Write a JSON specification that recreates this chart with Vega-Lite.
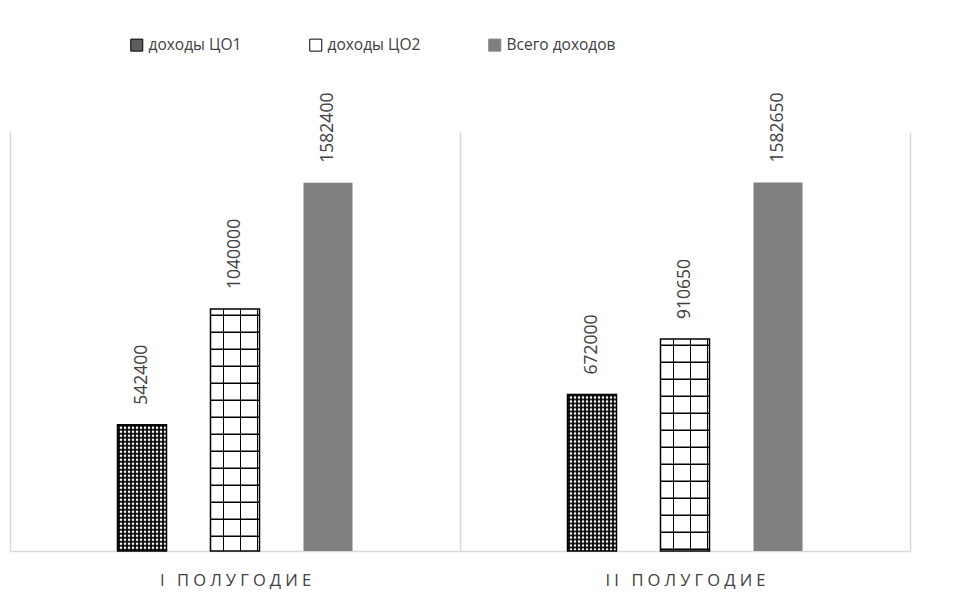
{
  "$schema": "https://vega.github.io/schema/vega-lite/v6.json",
  "autosize": "none",
  "width": 900,
  "height": 419,
  "padding": {"left": 10, "top": 132, "right": 45, "bottom": 63},
  "background": "#ffffff",
  "config": {
    "view": {"stroke": null},
    "font": "Open Sans"
  },
  "data": {
    "values": [
      {"period": "I ПОЛУГОДИЕ", "series": "доходы ЦО1", "value": 542400},
      {"period": "I ПОЛУГОДИЕ", "series": "доходы ЦО2", "value": 1040000},
      {"period": "I ПОЛУГОДИЕ", "series": "Всего доходов", "value": 1582400},
      {"period": "II ПОЛУГОДИЕ", "series": "доходы ЦО1", "value": 672000},
      {"period": "II ПОЛУГОДИЕ", "series": "доходы ЦО2", "value": 910650},
      {"period": "II ПОЛУГОДИЕ", "series": "Всего доходов", "value": 1582650}
    ]
  },
  "encoding": {
    "x": {
      "field": "period",
      "type": "nominal",
      "sort": null,
      "scale": {"domain": ["I ПОЛУГОДИЕ", "II ПОЛУГОДИЕ"], "paddingInner": 0, "paddingOuter": 0},
      "axis": {
        "title": null,
        "orient": "bottom",
        "labelAngle": 0,
        "ticks": false,
        "tickSize": 0,
        "tickBand": "extent",
        "labelPadding": 21,
        "labelFont": "Open Sans",
        "labelFontSize": 16.5,
        "labelColor": "#404040",
        "labelExpr": "replace(datum.label, regexp('(.)(?=.)', 'g'), '$1\u2005')",
        "domainColor": "#d9d9d9",
        "domainWidth": 1.5,
        "grid": true,
        "gridColor": "#d9d9d9",
        "gridWidth": 1.5
      }
    },
    "xOffset": {
      "field": "series",
      "type": "nominal",
      "sort": null,
      "scale": {"domain": ["доходы ЦО1", "доходы ЦО2", "Всего доходов"], "range": [107.5, 342.5], "paddingInner": 0.473, "paddingOuter": 0}
    },
    "y": {
      "field": "value",
      "type": "quantitative",
      "scale": {"domain": [0, 1800000], "nice": false, "zero": true},
      "axis": null
    }
  },
  "layer": [
    {
      "mark": {"type": "bar"},
      "encoding": {
        "fill": {
          "field": "series",
          "type": "nominal",
          "sort": null,
          "scale": {"domain": ["доходы ЦО1", "доходы ЦО2", "Всего доходов"], "range": ["#5e5e5e", "#ffffff", "#808080"]},
          "legend": {
            "orient": "none",
            "legendX": 119,
            "legendY": -95,
            "direction": "horizontal",
            "title": null,
            "symbolType": "square",
            "symbolSize": 144,
            "symbolStrokeWidth": 1,
            "labelFont": "Open Sans",
            "labelFontSize": 15.5,
            "labelColor": "#404040",
            "labelOffset": 4,
            "columnPadding": 65,
            "encode": {
              "symbols": {
                "update": {
                  "stroke": {"signal": "datum.value === 'Всего доходов' ? '#808080' : '#000000'"}
                }
              }
            }
          }
        }
      }
    },
    {
      "transform": [{"filter": "datum.series === 'доходы ЦО1'"}],
      "mark": {
        "type": "bar",
        "fill": {
          "gradient": "linear",
          "x1": 0, "y1": 0, "x2": 1, "y2": 0,
          "stops": [
            {"offset": 0, "color": "#262626"}, {"offset": 0.0417, "color": "#262626"},
            {"offset": 0.0417, "color": "#ffffff"}, {"offset": 0.0833, "color": "#ffffff"},
            {"offset": 0.0833, "color": "#262626"}, {"offset": 0.125, "color": "#262626"},
            {"offset": 0.125, "color": "#ffffff"}, {"offset": 0.1667, "color": "#ffffff"},
            {"offset": 0.1667, "color": "#262626"}, {"offset": 0.2083, "color": "#262626"},
            {"offset": 0.2083, "color": "#ffffff"}, {"offset": 0.25, "color": "#ffffff"},
            {"offset": 0.25, "color": "#262626"}, {"offset": 0.2917, "color": "#262626"},
            {"offset": 0.2917, "color": "#ffffff"}, {"offset": 0.3333, "color": "#ffffff"},
            {"offset": 0.3333, "color": "#262626"}, {"offset": 0.375, "color": "#262626"},
            {"offset": 0.375, "color": "#ffffff"}, {"offset": 0.4167, "color": "#ffffff"},
            {"offset": 0.4167, "color": "#262626"}, {"offset": 0.4583, "color": "#262626"},
            {"offset": 0.4583, "color": "#ffffff"}, {"offset": 0.5, "color": "#ffffff"},
            {"offset": 0.5, "color": "#262626"}, {"offset": 0.5417, "color": "#262626"},
            {"offset": 0.5417, "color": "#ffffff"}, {"offset": 0.5833, "color": "#ffffff"},
            {"offset": 0.5833, "color": "#262626"}, {"offset": 0.625, "color": "#262626"},
            {"offset": 0.625, "color": "#ffffff"}, {"offset": 0.6667, "color": "#ffffff"},
            {"offset": 0.6667, "color": "#262626"}, {"offset": 0.7083, "color": "#262626"},
            {"offset": 0.7083, "color": "#ffffff"}, {"offset": 0.75, "color": "#ffffff"},
            {"offset": 0.75, "color": "#262626"}, {"offset": 0.7917, "color": "#262626"},
            {"offset": 0.7917, "color": "#ffffff"}, {"offset": 0.8333, "color": "#ffffff"},
            {"offset": 0.8333, "color": "#262626"}, {"offset": 0.875, "color": "#262626"},
            {"offset": 0.875, "color": "#ffffff"}, {"offset": 0.9167, "color": "#ffffff"},
            {"offset": 0.9167, "color": "#262626"}, {"offset": 0.9583, "color": "#262626"},
            {"offset": 0.9583, "color": "#ffffff"}, {"offset": 1, "color": "#ffffff"}
          ]
        }
      }
    },
    {
      "transform": [{"filter": "datum.series === 'доходы ЦО1'"}],
      "mark": {"type": "rule", "stroke": "rgba(0,0,0,0.85)", "strokeWidth": 49, "strokeDash": [2, 2], "strokeCap": "butt"},
      "encoding": {"y2": {"datum": 0}}
    },
    {
      "transform": [{"filter": "datum.series === 'доходы ЦО2'"}],
      "mark": {
        "type": "bar",
        "fill": {
          "gradient": "linear",
          "x1": 0, "y1": 0, "x2": 1, "y2": 0,
          "stops": [
            {"offset": 0, "color": "rgba(0,0,0,0)"}, {"offset": 0.245, "color": "rgba(0,0,0,0)"},
            {"offset": 0.245, "color": "#000000"}, {"offset": 0.276, "color": "#000000"},
            {"offset": 0.276, "color": "rgba(0,0,0,0)"}, {"offset": 0.592, "color": "rgba(0,0,0,0)"},
            {"offset": 0.592, "color": "#000000"}, {"offset": 0.622, "color": "#000000"},
            {"offset": 0.622, "color": "rgba(0,0,0,0)"}, {"offset": 0.939, "color": "rgba(0,0,0,0)"},
            {"offset": 0.939, "color": "#000000"}, {"offset": 0.969, "color": "#000000"},
            {"offset": 0.969, "color": "rgba(0,0,0,0)"}, {"offset": 1, "color": "rgba(0,0,0,0)"}
          ]
        }
      }
    },
    {
      "transform": [{"filter": "datum.series === 'доходы ЦО2'"}],
      "mark": {"type": "rule", "stroke": "#000000", "strokeWidth": 49, "strokeDash": [1.5, 15.5], "strokeDashOffset": 11.5, "strokeCap": "butt"},
      "encoding": {"y2": {"datum": 0}}
    },
    {
      "transform": [{"filter": "datum.series !== 'Всего доходов'"}],
      "mark": {"type": "bar", "fill": "transparent", "stroke": "#000000", "strokeWidth": 1.5}
    },
    {
      "mark": {
        "type": "text",
        "angle": 270,
        "align": "left",
        "baseline": "middle",
        "dx": 20,
        "font": "Open Sans",
        "fontSize": 17.5,
        "color": "#404040"
      },
      "encoding": {
        "text": {"field": "value", "type": "quantitative", "format": "d"}
      }
    }
  ]
}
